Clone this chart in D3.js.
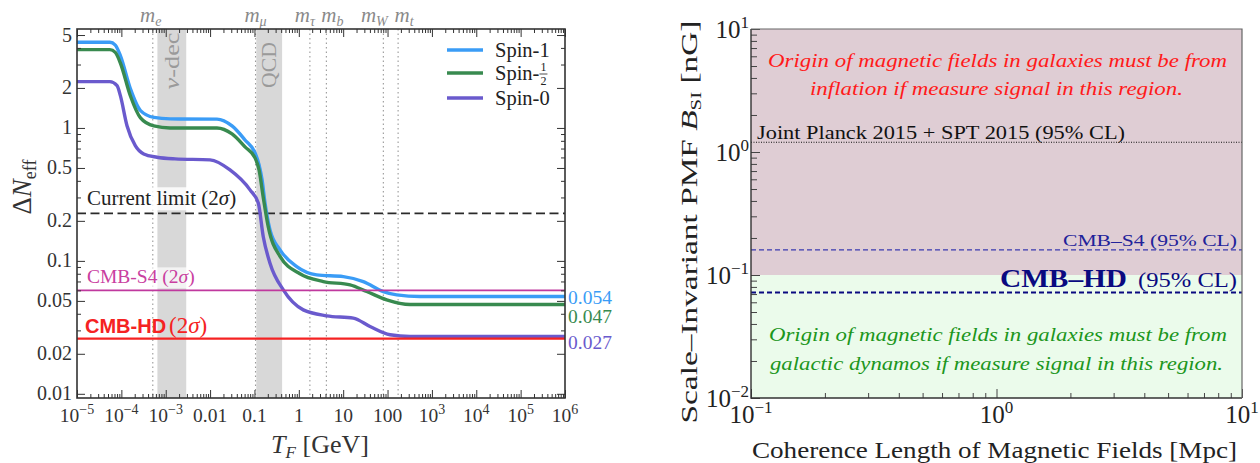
<!DOCTYPE html>
<html><head><meta charset="utf-8">
<script src="https://cdn.jsdelivr.net/npm/d3@7"></script>
<style>body{margin:0;background:#fff}svg{display:block}</style>
</head><body>
<svg id="chart" width="1260" height="463"></svg>
<script>
// ---------------- DATA (left panel) ----------------
const spin1T   = [1e-5, 5.5e-5, 7.3e-5, 9.5e-5, 1.6e-4, 2.7e-4, 5.4e-4, 1.25e-3, 0.0143, 0.0312, 0.0612, 0.103, 0.127, 0.1485, 0.173, 0.224, 0.377, 0.896, 2.53, 10.1, 28.4, 80.4, 161, 540, 1e6];
const spin1Val = [4.41, 4.41, 4.2, 3.50, 1.97, 1.35, 1.20, 1.17, 1.165, 1.035, 0.812, 0.649, 0.527, 0.407, 0.272, 0.171, 0.121, 0.0906, 0.0785, 0.0762, 0.0699, 0.0588, 0.0555, 0.054, 0.054];
const spinHalfT   = [1e-5, 5.5e-5, 7.3e-5, 9.5e-5, 1.6e-4, 2.7e-4, 5.4e-4, 1.25e-3, 0.0143, 0.0312, 0.0612, 0.103, 0.127, 0.158, 0.205, 0.377, 1.06, 3.56, 14.3, 33.9, 95.7, 321, 1e6];
const spinHalfVal = [3.88, 3.88, 3.7, 3.08, 1.74, 1.19, 1.035, 1.0, 1.0, 0.901, 0.720, 0.595, 0.483, 0.30, 0.18, 0.108, 0.080, 0.0699, 0.066, 0.0588, 0.0509, 0.047, 0.047];
const spin0T   = [1e-5, 5.5e-5, 8e-5, 9.5e-5, 1.34e-4, 2.06e-4, 3.19e-4, 6.35e-4, 1.62e-3, 9.95e-3, 0.0281, 0.0794, 0.122, 0.158, 0.224, 0.447, 1.26, 4.26, 16.9, 40.3, 114, 321, 1e6];
const spin0Val = [2.23, 2.23, 2.08, 1.75, 1.04, 0.736, 0.637, 0.602, 0.585, 0.575, 0.483, 0.342, 0.272, 0.152, 0.0961, 0.0605, 0.0428, 0.0386, 0.0371, 0.0321, 0.0278, 0.027, 0.027];
const seriesNames = ["Spin-1", "Spin-1/2", "Spin-0"];
const asymptoteLabels = ["0.054", "0.047", "0.027"];
const massNames  = ["e", "μ", "τ", "b", "W", "t"];
const massValues = [0.000511, 0.1057, 1.777, 4.18, 80.4, 173];
const nuDecBand = [6.5e-4, 2.9e-3];
const qcdBand   = [0.11, 0.42];
const currentLimit = 0.228, cmbS4Limit = 0.06, cmbHDLimit = 0.026;
const leftXTicks = [1e-5,1e-4,1e-3,1e-2,1e-1,1,10,100,1e3,1e4,1e5,1e6];
const leftXTickLabels = [["10","−5"],["10","−4"],["10","−3"],["0.01"],["0.1"],["1"],["10"],["100"],["10","3"],["10","4"],["10","5"],["10","6"]];
const leftYTicks = [5,2,1,0.5,0.2,0.1,0.05,0.02,0.01];
const leftYTickLabels = ["5","2","1","0.5","0.2","0.1","0.05","0.02","0.01"];

// ---------------- DATA (right panel) ----------------
const inflationRegion = [0.1, 10];
const dynamoRegion = [0.01, 0.1];
const planckLimit = 1.2, s4Limit = 0.16, hdLimit = 0.072;
const rightXTicks = [0.1, 1, 10];
const rightXTickLabels = [["10","−1"],["10","0"],["10","1"]];
const rightYTicks = [10, 1, 0.1, 0.01];
const rightYTickLabels = [["10","1"],["10","0"],["10","−1"],["10","−2"]];

// ---------------- DRAWING ----------------
const SERIF = "'Liberation Serif','Times New Roman',serif";
const SANS = "'Liberation Sans',Arial,sans-serif";
const svg = d3.select("#chart").attr("font-family", SERIF);

const xL = d3.scaleLog().domain([1e-5, 1e6]).range([77, 565]);
const yL = d3.scaleLog().domain([0.0093, 5.55]).range([398, 29]);
const xR = d3.scaleLog().domain([0.1, 10]).range([751, 1242]);
const yR = d3.scaleLog().domain([0.01, 10]).range([398, 29]);

function minors(lo, hi, skip) {
  const out = [];
  for (let e = lo; e < hi; e++) for (let m = 2; m <= 9; m++) {
    const v = +(m * Math.pow(10, e)).toPrecision(6);
    if (!skip.some(s => Math.abs(s - v) / v < 1e-6)) out.push(v);
  }
  return out;
}
function ticksOnly(g, axis, col) {
  g.call(axis);
  g.select(".domain").remove();
  g.selectAll("text").remove();
  g.selectAll("line").attr("stroke", col || "#333").attr("stroke-width", 1);
}
function supText(sel, parts, supFs, supDy) {
  sel.append("tspan").text(parts[0]);
  if (parts[1] !== undefined) sel.append("tspan").attr("font-size", supFs).attr("dy", supDy).text(parts[1]);
}
function fitText(t, w) { t.attr("textLength", w).attr("lengthAdjust", "spacingAndGlyphs"); return t; }

// ===== LEFT PANEL =====
const L = svg.append("g");
[nuDecBand, qcdBand].forEach(b => {
  L.append("rect").attr("x", xL(b[0])).attr("y", 29).attr("width", xL(b[1]) - xL(b[0])).attr("height", 369)
    .attr("fill", "#d8d8d8");
});
fitText(L.append("text").attr("transform", `translate(${xL(Math.sqrt(nuDecBand[0]*nuDecBand[1]))+7},61) rotate(-90)`)
  .attr("text-anchor", "middle").attr("font-size", 22).attr("fill", "#9a9a9a")
  .call(t => { t.append("tspan").attr("font-style","italic").text("ν"); t.append("tspan").text("-dec"); }), 57);
fitText(L.append("text").attr("transform", `translate(${xL(Math.sqrt(qcdBand[0]*qcdBand[1]))+7},65) rotate(-90)`)
  .attr("text-anchor", "middle").attr("font-size", 22).attr("fill", "#9a9a9a").text("QCD"), 46);
L.selectAll(".mline").data(massValues).join("line")
  .attr("x1", d => xL(d)).attr("x2", d => xL(d)).attr("y1", 29).attr("y2", 398)
  .attr("stroke", "#999").attr("stroke-width", 1.1).attr("stroke-dasharray", "1.5,3");
const massNudge = [-2, 0, -5, 6, -9, 6];
massNames.forEach((n, i) => {
  const t = L.append("text").attr("x", xL(massValues[i]) + massNudge[i]).attr("y", 22)
    .attr("text-anchor", "middle").attr("font-size", 21).attr("fill", "#8a8a8a").attr("font-style", "italic");
  t.append("tspan").text("m");
  t.append("tspan").attr("font-size", 14).attr("dy", 4).text(n);
});

function limitLabel(y, build, boxOpacity) {
  const t = L.append("text").attr("x", 87).attr("y", y);
  build(t);
  if (boxOpacity) {
    const bb = t.node().getBBox();
    L.insert("rect", () => t.node()).attr("x", bb.x - 2).attr("y", bb.y + 1).attr("width", bb.width + 4)
      .attr("height", bb.height - 1).attr("fill", "#fff").attr("opacity", boxOpacity);
  }
}
L.append("line").attr("x1", 77).attr("x2", 565).attr("y1", yL(currentLimit)).attr("y2", yL(currentLimit))
  .attr("stroke", "#2a2a2a").attr("stroke-width", 1.8).attr("stroke-dasharray", "9,4.5");
limitLabel(yL(currentLimit) - 8, t => {
  t.attr("font-size", 21).attr("fill", "#222");
  t.append("tspan").text("Current limit (2");
  t.append("tspan").attr("font-style", "italic").text("σ");
  t.append("tspan").text(")");
}, 0.85);

const line = d3.line().x(d => xL(d[0])).y(d => yL(d[1])).curve(d3.curveMonotoneX);
const curveColors = ["#3a9cf6", "#388a4f", "#6a5acd"];
const curveData = [d3.zip(spin1T, spin1Val), d3.zip(spinHalfT, spinHalfVal), d3.zip(spin0T, spin0Val)];
curveData.forEach((c, i) => {
  L.append("path").attr("d", line(c)).attr("fill", "none").attr("stroke", curveColors[i])
    .attr("stroke-width", 3.4).attr("stroke-linejoin", "round");
});

L.append("line").attr("x1", 77).attr("x2", 565).attr("y1", yL(cmbS4Limit)).attr("y2", yL(cmbS4Limit))
  .attr("stroke", "#c0399e").attr("stroke-width", 1.6);
limitLabel(yL(cmbS4Limit) - 7, t => {
  t.attr("font-size", 19.5).attr("fill", "#c9409f");
  t.append("tspan").text("CMB-S4 (2");
  t.append("tspan").attr("font-style", "italic").text("σ");
  t.append("tspan").text(")");
}, 0.7);
L.append("line").attr("x1", 77).attr("x2", 565).attr("y1", yL(cmbHDLimit)).attr("y2", yL(cmbHDLimit))
  .attr("stroke", "#f52222").attr("stroke-width", 2.4);
limitLabel(yL(cmbHDLimit) - 6, t => {
  t.attr("fill", "#f52222").attr("x", 85);
  t.append("tspan").attr("font-family", SANS).attr("font-weight", "bold").attr("font-size", 20).text("CMB-HD");
  t.append("tspan").attr("font-size", 23).attr("dx", 3).text("(2");
  t.append("tspan").attr("font-size", 23).attr("font-style", "italic").text("σ");
  t.append("tspan").attr("font-size", 23).text(")");
}, 0);

const asymNudge = [1, 12, 6];
asymptoteLabels.forEach((s, i) => {
  L.append("text").attr("x", 568).attr("y", yL(+s) + asymNudge[i]).attr("dy", "0.33em")
    .attr("font-size", 19.5).attr("fill", curveColors[i]).text(s);
});

const legY = [50, 73, 98];
seriesNames.forEach((n, i) => {
  L.append("line").attr("x1", 447).attr("x2", 483).attr("y1", legY[i]).attr("y2", legY[i])
    .attr("stroke", curveColors[i]).attr("stroke-width", 3.4);
  if (n === "Spin-1/2") {
    const t = L.append("text").attr("x", 495).attr("y", legY[i] + 7).attr("font-size", 20.5).attr("fill", "#222").text("Spin-");
    const w = t.node().getComputedTextLength();
    const fx = 495 + w + 4;
    L.append("text").attr("x", fx).attr("y", legY[i] - 2).attr("text-anchor", "middle").attr("font-size", 12).attr("fill", "#222").text("1");
    L.append("line").attr("x1", fx - 4).attr("x2", fx + 4).attr("y1", legY[i] + 1).attr("y2", legY[i] + 1).attr("stroke", "#222").attr("stroke-width", 0.8);
    L.append("text").attr("x", fx).attr("y", legY[i] + 12).attr("text-anchor", "middle").attr("font-size", 12).attr("fill", "#222").text("2");
  } else {
    L.append("text").attr("x", 495).attr("y", legY[i] + 7).attr("font-size", 20.5).attr("fill", "#222").text(n);
  }
});

const lxMinor = minors(-5, 6, leftXTicks);
const lyMinor = minors(-2, 1, leftYTicks).filter(v => v < 5.55);
ticksOnly(L.append("g").attr("transform", "translate(0,398)"), d3.axisBottom(xL).tickValues(leftXTicks).tickSize(-8));
ticksOnly(L.append("g").attr("transform", "translate(0,398)"), d3.axisBottom(xL).tickValues(lxMinor).tickSize(-4));
ticksOnly(L.append("g").attr("transform", "translate(0,29)"), d3.axisTop(xL).tickValues(leftXTicks).tickSize(-8));
ticksOnly(L.append("g").attr("transform", "translate(0,29)"), d3.axisTop(xL).tickValues(lxMinor).tickSize(-4));
ticksOnly(L.append("g").attr("transform", "translate(77,0)"), d3.axisLeft(yL).tickValues(leftYTicks).tickSize(-8));
ticksOnly(L.append("g").attr("transform", "translate(77,0)"), d3.axisLeft(yL).tickValues(lyMinor).tickSize(-4));
ticksOnly(L.append("g").attr("transform", "translate(565,0)"), d3.axisRight(yL).tickValues(leftYTicks).tickSize(-8));
ticksOnly(L.append("g").attr("transform", "translate(565,0)"), d3.axisRight(yL).tickValues(lyMinor).tickSize(-4));
L.append("rect").attr("x", 77).attr("y", 29).attr("width", 488).attr("height", 369)
  .attr("fill", "none").attr("stroke", "#333").attr("stroke-width", 1.6);

leftXTicks.forEach((v, i) => {
  const t = L.append("text").attr("x", xL(v)).attr("y", 422).attr("text-anchor", "middle").attr("font-size", 19.5).attr("fill", "#333");
  supText(t, leftXTickLabels[i], 14, -8);
});
leftYTicks.forEach((v, i) => {
  L.append("text").attr("x", 72).attr("y", yL(v) + 6.5).attr("text-anchor", "end").attr("font-size", 20).attr("fill", "#333").text(leftYTickLabels[i]);
});
L.append("text").attr("x", 320).attr("y", 453).attr("text-anchor", "middle").attr("font-size", 26).attr("fill", "#333")
  .call(t => {
    t.append("tspan").attr("font-style", "italic").text("T");
    t.append("tspan").attr("font-style", "italic").attr("font-size", 17).attr("dy", 5).text("F");
    t.append("tspan").attr("dy", -5).text(" [GeV]");
  });
L.append("text").attr("transform", "translate(31,187) rotate(-90)").attr("text-anchor", "middle").attr("font-size", 27).attr("fill", "#333")
  .call(t => {
    t.append("tspan").text("Δ");
    t.append("tspan").attr("font-style", "italic").text("N");
    t.append("tspan").attr("font-size", 18).attr("dy", 5).text("eff");
  });

// ===== RIGHT PANEL =====
const R = svg.append("g");
R.append("rect").attr("x", 751).attr("y", yR(inflationRegion[1])).attr("width", 491)
  .attr("height", yR(inflationRegion[0]) - yR(inflationRegion[1])).attr("fill", "#dfcdd4");
R.append("rect").attr("x", 751).attr("y", yR(dynamoRegion[1])).attr("width", 491)
  .attr("height", yR(dynamoRegion[0]) - yR(dynamoRegion[1])).attr("fill", "#ebfbeb");

R.append("line").attr("x1", 751).attr("x2", 1242).attr("y1", yR(planckLimit)).attr("y2", yR(planckLimit))
  .attr("stroke", "#111").attr("stroke-width", 1).attr("stroke-dasharray", "1,1.5");
R.append("line").attr("x1", 751).attr("x2", 1242).attr("y1", yR(s4Limit)).attr("y2", yR(s4Limit))
  .attr("stroke", "#3a3ab0").attr("stroke-width", 1.2).attr("stroke-dasharray", "5,3");
R.append("line").attr("x1", 751).attr("x2", 1242).attr("y1", yR(hdLimit)).attr("y2", yR(hdLimit))
  .attr("stroke", "#0a0a80").attr("stroke-width", 2).attr("stroke-dasharray", "5,3");

fitText(R.append("text").attr("x", 768).attr("y", 67).attr("font-size", 19).attr("font-style", "italic").attr("fill", "#ff1a1a")
  .text("Origin of magnetic fields in galaxies must be from"), 459);
fitText(R.append("text").attr("x", 810).attr("y", 95).attr("font-size", 19).attr("font-style", "italic").attr("fill", "#ff1a1a")
  .text("inflation if measure signal in this region."), 373);
fitText(R.append("text").attr("x", 757).attr("y", 139).attr("font-size", 18.5).attr("fill", "#111")
  .text("Joint Planck 2015 + SPT 2015 (95% CL)"), 368);
fitText(R.append("text").attr("x", 1063).attr("y", 246).attr("font-size", 17).attr("fill", "#22229a")
  .text("CMB–S4 (95% CL)"), 174);
fitText(R.append("text").attr("x", 1000).attr("y", 287).attr("font-weight", "bold").attr("font-size", 25).attr("fill", "#0a0a80")
  .text("CMB–HD"), 127);
fitText(R.append("text").attr("x", 1138).attr("y", 287).attr("font-size", 21).attr("fill", "#0a0a80")
  .text("(95% CL)"), 99);
fitText(R.append("text").attr("x", 769).attr("y", 341).attr("font-size", 19).attr("font-style", "italic").attr("fill", "#1c961c")
  .text("Origin of magnetic fields in galaxies must be from"), 458);
fitText(R.append("text").attr("x", 770).attr("y", 370).attr("font-size", 19).attr("font-style", "italic").attr("fill", "#1c961c")
  .text("galactic dynamos if measure signal in this region."), 453);

const rxMinor = minors(-1, 1, rightXTicks);
const ryMinor = minors(-2, 1, rightYTicks);
ticksOnly(R.append("g").attr("transform", "translate(0,398)"), d3.axisBottom(xR).tickValues(rightXTicks).tickSize(-9), "#444");
ticksOnly(R.append("g").attr("transform", "translate(0,398)"), d3.axisBottom(xR).tickValues(rxMinor).tickSize(-5), "#444");
ticksOnly(R.append("g").attr("transform", "translate(751,0)"), d3.axisLeft(yR).tickValues(rightYTicks).tickSize(-9), "#444");
ticksOnly(R.append("g").attr("transform", "translate(751,0)"), d3.axisLeft(yR).tickValues(ryMinor).tickSize(-6), "#444");
R.append("path").attr("d", "M751,29V398H1242").attr("fill", "none").attr("stroke", "#333").attr("stroke-width", 1.4);
R.append("path").attr("d", "M751,29H1242V398").attr("fill", "none").attr("stroke", "#666").attr("stroke-width", 1.2);

rightXTicks.forEach((v, i) => {
  const t = R.append("text").attr("x", xR(v)).attr("y", 423).attr("text-anchor", "middle").attr("font-size", 25).attr("fill", "#222");
  supText(t, rightXTickLabels[i], 17, -10);
});
rightYTicks.forEach((v, i) => {
  const t = R.append("text").attr("x", 749).attr("y", yR(v) + 9).attr("text-anchor", "end").attr("font-size", 25).attr("fill", "#222");
  supText(t, rightYTickLabels[i], 17, -10);
});
fitText(R.append("text").attr("x", 752).attr("y", 458).attr("font-size", 24).attr("fill", "#222")
  .text("Coherence Length of Magnetic Fields [Mpc]"), 485);
fitText(R.append("text").attr("transform", "translate(697,222) rotate(-90)").attr("text-anchor", "middle").attr("font-size", 24).attr("fill", "#222")
  .call(t => {
    t.append("tspan").text("Scale–Invariant PMF ");
    t.append("tspan").attr("font-style", "italic").text("B");
    t.append("tspan").attr("font-size", 15).attr("dy", 4).text("SI");
    t.append("tspan").attr("dy", -4).text(" [nG]");
  }), 403);
</script></body></html>
